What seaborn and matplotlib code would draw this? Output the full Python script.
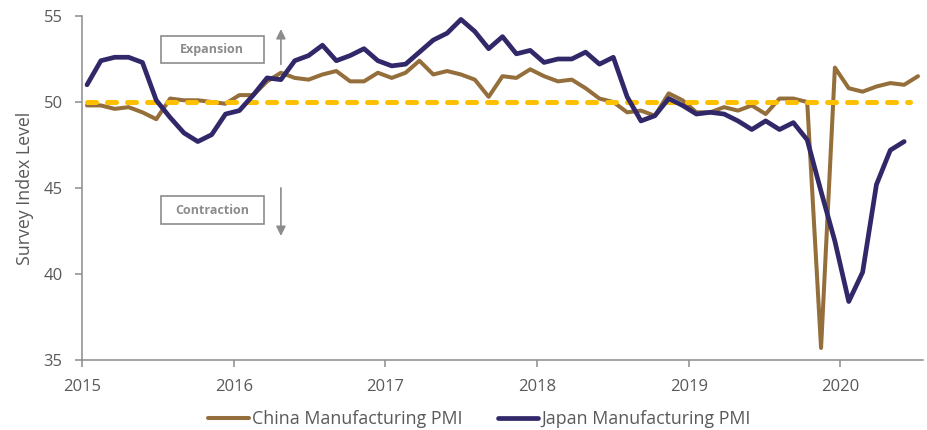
import pandas as pd
import seaborn as sns
import matplotlib.pyplot as plt
from matplotlib.patches import Rectangle
from matplotlib.transforms import ScaledTranslation

# monthly PMI readings as plotted (China: 61 points, Japan: 60 points)
china = [49.8, 49.8, 49.6, 49.7,
         49.4, 49.0, 50.2, 50.1, 50.1, 50.0, 49.9, 50.4, 50.4, 51.2, 51.7, 51.4,
         51.3, 51.6, 51.8, 51.2, 51.2, 51.7, 51.4, 51.7, 52.4, 51.6, 51.8, 51.6,
         51.3, 50.3, 51.5, 51.4, 51.9, 51.5, 51.2, 51.3, 50.8, 50.2, 50.0, 49.4,
         49.5, 49.2, 50.5, 50.1, 49.4, 49.4, 49.7, 49.5, 49.8, 49.3, 50.2, 50.2,
         50.0, 35.7, 52.0, 50.8, 50.6, 50.9, 51.1, 51.0, 51.5]
japan = [51.0, 52.4, 52.6, 52.6,
         52.3, 50.1, 49.1, 48.2, 47.7, 48.1, 49.3, 49.5, 50.4, 51.4, 51.3, 52.4,
         52.7, 53.3, 52.4, 52.7, 53.1, 52.4, 52.1, 52.2, 52.9, 53.6, 54.0,
         54.8, 54.1, 53.1, 53.8, 52.8, 53.0, 52.3, 52.5, 52.5, 52.9, 52.2, 52.6,
         50.3, 48.9, 49.2, 50.2, 49.8, 49.3, 49.4, 49.3, 48.9, 48.4, 48.9, 48.4,
         48.8, 47.8, 44.8, 41.9, 38.4, 40.1, 45.2, 47.2, 47.7]
threshold = 50
year_labels = ['2015', '2016', '2017', '2018', '2019', '2020']

sns.set_style('white')
plt.rcParams['font.family'] = ['Open Sans', 'DejaVu Sans']

gray = '#8c8c8c'
text_gray = '#595959'

fig = plt.figure(figsize=(9.28, 4.30), dpi=100)
ax = fig.add_axes([0.0884, 0.1628, 0.9062, 0.8])

df_cn = pd.DataFrame({'t': range(len(china)), 'pmi': china})
df_jp = pd.DataFrame({'t': range(len(japan)), 'pmi': japan})

sns.lineplot(data=df_cn, x='t', y='pmi', color='#946F3B', linewidth=2.9,
             label='China Manufacturing PMI', ax=ax, zorder=2)
ax.hlines(threshold, 0, len(japan) - 0.6, colors='#FFC000', linewidth=3.6,
          linestyles=(0, (1.8, 2.2)), capstyle='round', zorder=3)
sns.lineplot(data=df_jp, x='t', y='pmi', color='#31286A', linewidth=3.4,
             label='Japan Manufacturing PMI', ax=ax, zorder=4)
for ln in ax.lines:
    ln.set_solid_capstyle('round')
    ln.set_solid_joinstyle('round')

# axes
ax.set_ylim(35, 55)
ax.set_xlim(-0.36, 60.36)
ax.set_yticks([35, 40, 45, 50, 55])
step = 10.95
ax.set_xticks([-0.36 + k * step for k in range(len(year_labels))])
ax.set_xticklabels(year_labels)
for lab in ax.get_xticklabels():
    lab.set_transform(lab.get_transform() + ScaledTranslation(0.06, 0, fig.dpi_scale_trans))
ax.tick_params(axis='both', colors=gray, labelcolor=text_gray, labelsize=12,
               length=5, width=1.1, pad=9, direction='out')
ax.tick_params(axis='x', bottom=True)
ax.tick_params(axis='y', left=True)
for side in ['top', 'right']:
    ax.spines[side].set_visible(False)
for side in ['left', 'bottom']:
    ax.spines[side].set_color(gray)
    ax.spines[side].set_linewidth(1.1)
ax.set_xlabel('')
ax.set_ylabel('Survey Index Level', fontsize=12.8, color=text_gray)
ax.yaxis.set_label_coords(-0.057, 0.5)

# expansion / contraction notes
for y0, y1, txt in [(52.25, 53.85, 'Expansion'), (42.89, 44.55, 'Contraction')]:
    ax.add_patch(Rectangle((5.32, y0), 12.78 - 5.32, y1 - y0, fill=False,
                           edgecolor=gray, linewidth=1.2, zorder=5))
    ax.text(9.05, (y0 + y1) / 2, txt, ha='center', va='center', fontsize=9,
            fontweight='bold', color=gray, zorder=6)
ax.annotate('', xy=(14.0, 54.4), xytext=(14.0, 52.03),
            arrowprops=dict(arrowstyle='-|>', color=gray, lw=1.2, mutation_scale=14))
ax.annotate('', xy=(14.0, 42.05), xytext=(14.0, 45.17),
            arrowprops=dict(arrowstyle='-|>', color=gray, lw=1.2, mutation_scale=14))

handles, labels = ax.get_legend_handles_labels()
ax.get_legend().remove()
leg = fig.legend(handles, labels, loc='center', bbox_to_anchor=(0.5167, 0.025), ncol=2,
                 frameon=False, fontsize=12.8, handlelength=2.3, handletextpad=0.17,
                 columnspacing=1.97, borderpad=0, borderaxespad=0)
for t in leg.get_texts():
    t.set_color(text_gray)

fig.savefig('out.png', dpi=100)
